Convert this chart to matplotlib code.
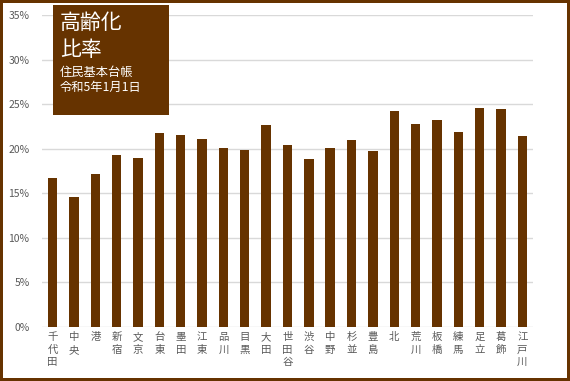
#*******************************************************************************
#plot.py
#*******************************************************************************

#Purpose:
#Bar chart of the ratio of elderly people in the 23 special wards of Tokyo
#(basic resident register, 1 January Reiwa 5).


#*******************************************************************************
#Import Python modules
#*******************************************************************************
import numpy
import matplotlib
matplotlib.use('Agg')
import matplotlib.pyplot as plt
from matplotlib.patches import Rectangle


#*******************************************************************************
#Data
#*******************************************************************************
YV_ward=['千代田','中央','港','新宿','文京','台東','墨田','江東','品川','目黒',
         '大田','世田谷','渋谷','中野','杉並','豊島','北','荒川','板橋','練馬',
         '足立','葛飾','江戸川']

ZV_ratio=[16.7,14.6,17.1,19.3,19.0,21.7,21.5,21.1,20.1,19.8,
          22.6,20.4,18.8,20.1,21.0,19.7,24.2,22.8,23.2,21.9,
          24.6,24.5,21.4]

ZV_ytick=[0,5,10,15,20,25,30,35]
YV_ytick=['0%','5%','10%','15%','20%','25%','30%','35%']

YS_title1='高齢化'
YS_title2='比率'
YS_sub1='住民基本台帳'
YS_sub2='令和5年1月1日'


#*******************************************************************************
#Settings
#*******************************************************************************
plt.rcParams['font.family']=['Noto Sans CJK JP','DejaVu Sans']

YS_brown='#663300'
YS_grey='#595959'


#*******************************************************************************
#Plot
#*******************************************************************************
fig=plt.figure(figsize=(5.70,3.81),dpi=100)
fig.patch.set_facecolor('white')
fig.patch.set_edgecolor(YS_brown)
fig.patch.set_linewidth(4.0)

ax=fig.add_axes([0.0737,0.1425,0.8613,0.8181])

IV_x=numpy.arange(len(YV_ward))
ax.bar(IV_x,ZV_ratio,width=0.44,color=YS_brown,zorder=3)

ax.set_xlim(-0.5,len(YV_ward)-0.5)
ax.set_ylim(0,35)
ax.set_yticks(ZV_ytick)
ax.set_yticklabels(YV_ytick)
ax.set_xticks(IV_x)
ax.set_xticklabels(['\n'.join(s) for s in YV_ward],linespacing=1.3,
                   va='top')

ax.tick_params(axis='y',length=0,labelsize=7.5,labelcolor=YS_grey,pad=9)
ax.tick_params(axis='x',length=0,labelsize=7.5,labelcolor=YS_grey,pad=4)

ax.yaxis.grid(True,color='#d9d9d9',linewidth=1.0,zorder=0)
ax.set_axisbelow(True)
for s in ax.spines.values():
     s.set_visible(False)

#-------------------------------------------------------------------------------
#Title box
#-------------------------------------------------------------------------------
fig.add_artist(Rectangle((0.093,0.698),0.2035,0.2887,transform=fig.transFigure,
                         facecolor=YS_brown,edgecolor='none',zorder=5))

fig.text(0.105,0.940,YS_title1,color='white',fontsize=15,va='center',
         ha='left',zorder=6)
fig.text(0.105,0.869,YS_title2,color='white',fontsize=15,va='center',
         ha='left',zorder=6)
fig.text(0.105,0.810,YS_sub1,color='white',fontsize=8.8,va='center',
         ha='left',zorder=6)
fig.text(0.105,0.770,YS_sub2,color='white',fontsize=8.8,va='center',
         ha='left',zorder=6)

plt.savefig('out.png',dpi=100)
